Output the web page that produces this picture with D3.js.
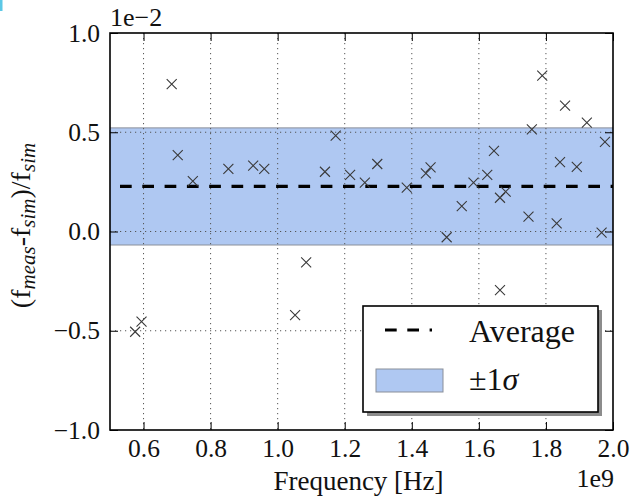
<!DOCTYPE html>
<html>
<head>
<meta charset="utf-8">
<script src="https://cdn.jsdelivr.net/npm/d3@7"></script>
</head>
<body style="margin:0;background:#fff">
<svg id="chart" width="630" height="500" style="display:block"></svg>
<script>
// Measured frequency (in units of 1e9 Hz)
const frequency = [
  0.575, 0.594, 0.684, 0.702, 0.747, 0.853, 0.927, 0.960, 1.085, 1.052,
  1.141, 1.173, 1.216, 1.260, 1.297, 1.385, 1.442, 1.456, 1.504, 1.549,
  1.584, 1.625, 1.645, 1.663, 1.680, 1.663, 1.748, 1.758, 1.789, 1.832,
  1.842, 1.857, 1.892, 1.922, 1.966, 1.976
];
// Relative deviation (f_meas - f_sim) / f_sim (in units of 1e-2)
const deviation = [
  -0.505, -0.454, 0.743, 0.385, 0.254, 0.315, 0.332, 0.315, -0.155, -0.421,
  0.301, 0.483, 0.285, 0.246, 0.340, 0.221, 0.293, 0.323, -0.029, 0.128,
  0.246, 0.285, 0.406, 0.170, 0.201, -0.295, 0.075, 0.515, 0.785, 0.041,
  0.349, 0.634, 0.326, 0.548, -0.006, 0.452
];
const average = 0.227;
const sigma = 0.295;

const xTicks = [0.6, 0.8, 1.0, 1.2, 1.4, 1.6, 1.8, 2.0];
const yTicks = [-1.0, -0.5, 0.0, 0.5, 1.0];
const xDomain = [0.5, 2.0];
const yDomain = [-1.0, 1.0];
const legendLabels = ["Average", "\u00b11"];

const labelFont = '"Times New Roman"';
const svg = d3.select("#chart");
const pLeft = 110, pRight = 613, pTop = 33, pBottom = 430;

const x = d3.scaleLinear().domain(xDomain).range([pLeft, pRight]);
const y = d3.scaleLinear().domain(yDomain).range([pBottom, pTop]);

// small cyan edge mark in the corner
svg.append("rect").attr("x", 0).attr("y", 0).attr("width", 2.5).attr("height", 11)
  .attr("fill", "#5cc8e6");

svg.append("defs").append("clipPath").attr("id", "plotClip")
  .append("rect").attr("x", pLeft).attr("y", pTop)
  .attr("width", pRight - pLeft).attr("height", pBottom - pTop);

const plot = svg.append("g").attr("clip-path", "url(#plotClip)");

// +/- 1 sigma band
plot.append("rect")
  .attr("x", pLeft - 2).attr("width", pRight - pLeft + 4)
  .attr("y", y(average + sigma))
  .attr("height", y(average - sigma) - y(average + sigma))
  .attr("fill", "#afc8f2")
  .attr("stroke", "#8a8f99").attr("stroke-width", 1);

// dotted grid
const grid = plot.append("g").attr("stroke", "#555").attr("stroke-width", 1)
  .attr("stroke-dasharray", "1.2,3.8");
xTicks.filter(t => t < xDomain[1]).forEach(t => {
  grid.append("line").attr("x1", x(t)).attr("x2", x(t)).attr("y1", pTop).attr("y2", pBottom);
});
yTicks.filter(t => t > yDomain[0] && t < yDomain[1]).forEach(t => {
  grid.append("line").attr("x1", pLeft).attr("x2", pRight).attr("y1", y(t)).attr("y2", y(t));
});

// average line
plot.append("line")
  .attr("x1", pLeft).attr("x2", pRight)
  .attr("y1", y(average)).attr("y2", y(average))
  .attr("stroke", "#000").attr("stroke-width", 3.2)
  .attr("stroke-dasharray", "11.7,10.6").attr("stroke-dashoffset", 12.3);

// x markers
const pts = frequency.map((f, i) => ({ f, d: deviation[i] }));
const mk = 5;
plot.append("g").selectAll("path").data(pts).join("path")
  .attr("d", p => {
    const cx = x(p.f), cy = y(p.d);
    return `M${cx - mk},${cy - mk}L${cx + mk},${cy + mk}M${cx - mk},${cy + mk}L${cx + mk},${cy - mk}`;
  })
  .attr("stroke", "#3a3a3a").attr("stroke-width", 1.1).attr("fill", "none");

// axes with inward ticks
const fmt = d3.format(".1f");
const minusFmt = v => fmt(v).replace("-", "\u2212");

const xAxis = svg.append("g").attr("transform", `translate(0,${pBottom})`)
  .call(d3.axisBottom(x).tickValues(xTicks).tickSize(-8).tickPadding(9).tickFormat(fmt));
const yAxis = svg.append("g").attr("transform", `translate(${pLeft},0)`)
  .call(d3.axisLeft(y).tickValues(yTicks).tickSize(-8).tickPadding(10).tickFormat(minusFmt));
const xTop = svg.append("g").attr("transform", `translate(0,${pTop})`)
  .call(d3.axisTop(x).tickValues(xTicks).tickSize(-8).tickFormat(""));
const yRight = svg.append("g").attr("transform", `translate(${pRight},0)`)
  .call(d3.axisRight(y).tickValues(yTicks).tickSize(-8).tickFormat(""));

[xAxis, yAxis, xTop, yRight].forEach(a => {
  a.attr("font-family", null).attr("font-size", null);
  a.select(".domain").remove();
  a.selectAll(".tick line").attr("stroke", "#000").attr("stroke-width", 1);
  a.selectAll("text").style("font-size", "25.5px");
});

// frame
svg.append("rect").attr("x", pLeft).attr("y", pTop)
  .attr("width", pRight - pLeft).attr("height", pBottom - pTop)
  .attr("fill", "none").attr("stroke", "#000").attr("stroke-width", 1.6);

// offset labels
svg.append("text").attr("x", pLeft).attr("y", 26).style("font-size", "26px").text("1e\u22122");
svg.append("text").attr("x", 614).attr("y", 487).style("font-size", "26px")
  .attr("text-anchor", "end").text("1e9");

// axis titles
svg.append("text").attr("x", (pLeft + pRight) / 2 - 3).attr("y", 490)
  .style("font-size", "27px").attr("text-anchor", "middle").text("Frequency [Hz]");

const yl = svg.append("text")
  .attr("transform", `translate(30,${(pTop + pBottom) / 2 - 6}) rotate(-90)`)
  .attr("text-anchor", "middle").style("font-size", "28px");
const parts = [["(f", false], ["meas", true], ["-f", false], ["sim", true], [")/f", false], ["sim", true]];
parts.forEach(([t, sub], i) => {
  const prevSub = i > 0 && parts[i - 1][1];
  const ts = yl.append("tspan").text(t);
  if (sub) ts.style("font-size", "21px").style("font-style", "italic").attr("dy", 5);
  else if (prevSub) ts.attr("dy", -5);
});

// legend
const lg = svg.append("g");
const lx = 363, ly = 306, lw = 235, lh = 106;
lg.append("rect").attr("x", lx + 4).attr("y", ly + 4).attr("width", lw).attr("height", lh)
  .attr("fill", "#8c8c8c");
lg.append("rect").attr("x", lx).attr("y", ly).attr("width", lw).attr("height", lh)
  .attr("fill", "#fff").attr("stroke", "#000").attr("stroke-width", 1.6);
lg.append("line").attr("x1", 385).attr("x2", 432).attr("y1", 330).attr("y2", 330)
  .attr("stroke", "#000").attr("stroke-width", 3.2).attr("stroke-dasharray", "11.7,10.6");
lg.append("rect").attr("x", 376).attr("y", 369).attr("width", 67).attr("height", 23)
  .attr("fill", "#afc8f2").attr("stroke", "#8a8f99").attr("stroke-width", 1);
lg.append("text").attr("x", 469).attr("y", 342).style("font-size", "32px").text(legendLabels[0]);
const sl = lg.append("text").attr("x", 469).attr("y", 390).style("font-size", "32px");
sl.append("tspan").text(legendLabels[1]);
sl.append("tspan").style("font-style", "italic").text("\u03c3");

// serif face for every label
svg.selectAll("text").style("font-family", labelFont).attr("fill", "#111");
</script>
</body>
</html>
